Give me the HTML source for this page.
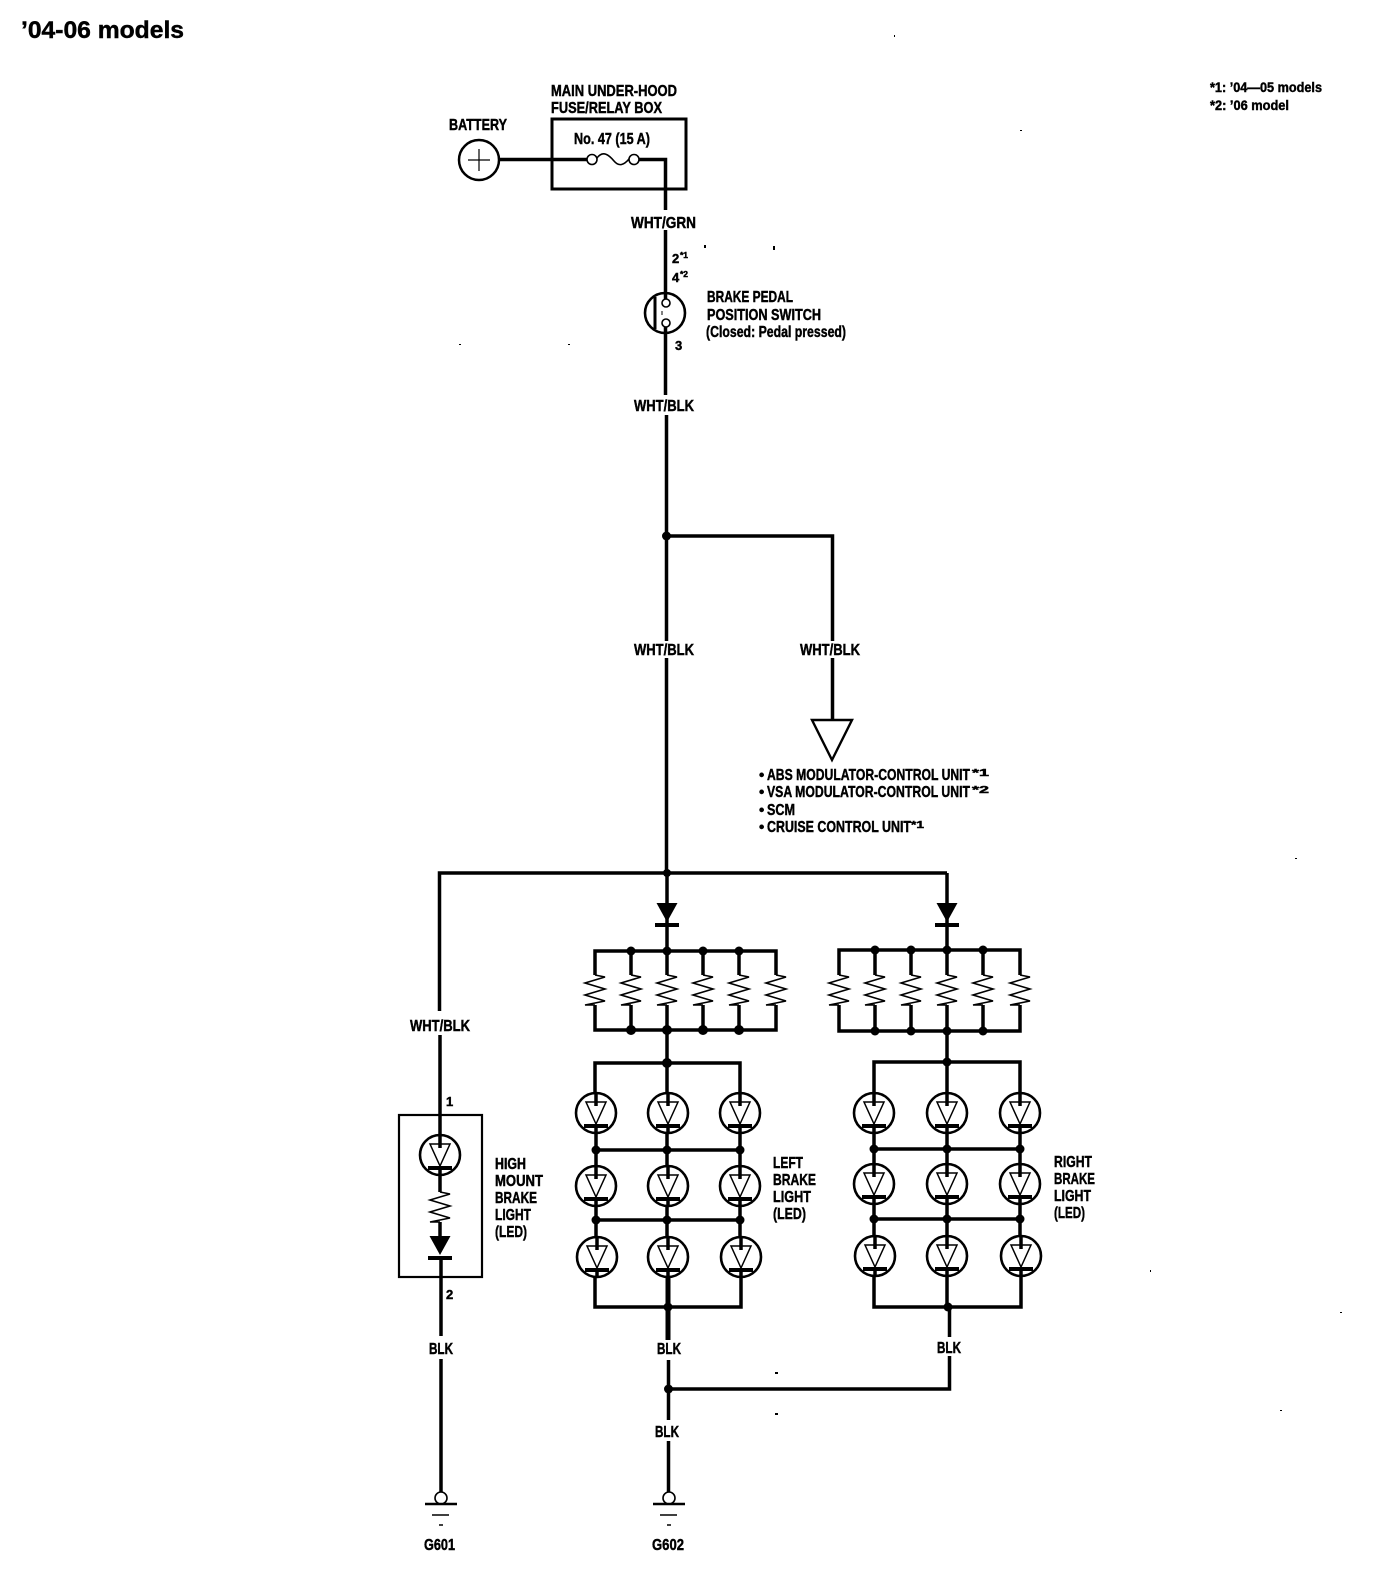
<!DOCTYPE html>
<html><head><meta charset="utf-8"><style>
html,body{margin:0;padding:0;background:#fff;width:1376px;height:1584px;overflow:hidden}
svg{display:block}
text{font-family:"Liberation Sans",sans-serif;font-weight:bold;font-size:15.5px;fill:#000;stroke:#000;stroke-width:.45}
.w{stroke:#000;stroke-width:3.5;fill:none}
</style></head><body>
<svg width="1376" height="1584" viewBox="0 0 1376 1584" xmlns="http://www.w3.org/2000/svg">
<defs>
<g id="led">
<circle r="20" fill="#fff" stroke="#000" stroke-width="2.6"/>
<path d="M-10,-11H10L0,11Z" fill="none" stroke="#000" stroke-width="1.5"/>
<path d="M0,-20V-7" class="w"/>
<path d="M-12,13H12" stroke="#000" stroke-width="4"/>
<path d="M0,11V20" class="w"/>
</g>
<path id="zz" d="M0,0L10,2L-10,8L10,14L-10,20L10,26L-10,30L0,30" fill="none" stroke="#000" stroke-width="1.6"/>
<g id="diode">
<path d="M-10.500,0H10.500L0,19Z" fill="#000"/>
<path d="M-12,22H12" stroke="#000" stroke-width="4"/>
</g>
<g id="gnd">
<circle r="6" fill="#fff" stroke="#000" stroke-width="1.6"/>
<path d="M-16,6H16" stroke="#000" stroke-width="2.500"/>
<path d="M-9,17H8" stroke="#000" stroke-width="1.500"/>
<path d="M-2,27H2" stroke="#000" stroke-width="1.500"/>
</g>
</defs>

<text x="21" y="38" style="font-size:24px" textLength="163" lengthAdjust="spacingAndGlyphs">’04-06 models</text>
<text x="1210" y="92" style="font-size:14px" textLength="112" lengthAdjust="spacingAndGlyphs">*1: ’04—05 models</text>
<text x="1210" y="110" style="font-size:14px" textLength="79" lengthAdjust="spacingAndGlyphs">*2: ’06 model</text>

<!-- top: battery and fuse box -->
<rect x="552" y="119" width="134" height="70" fill="none" stroke="#000" stroke-width="3"/>
<circle cx="479" cy="160" r="20" fill="#fff" stroke="#000" stroke-width="2.500"/>
<path d="M468,160H490M479,149V171" stroke="#000" stroke-width="1.200"/>
<path class="w" d="M499,159.500H587"/>
<path class="w" d="M639,159.500H665.500V210"/>
<circle cx="592" cy="159.500" r="5" fill="#fff" stroke="#000" stroke-width="1.600"/>
<circle cx="634" cy="159.500" r="5" fill="#fff" stroke="#000" stroke-width="1.600"/>
<path d="M597,158C603,150 609,155 614,161C619,167 624,165 629,159" fill="none" stroke="#000" stroke-width="1.600"/>
<text x="551" y="96" textLength="126" lengthAdjust="spacingAndGlyphs">MAIN UNDER-HOOD</text>
<text x="551" y="113" textLength="111" lengthAdjust="spacingAndGlyphs">FUSE/RELAY BOX</text>
<text x="449" y="130" textLength="58" lengthAdjust="spacingAndGlyphs">BATTERY</text>
<text x="574" y="144" textLength="76" lengthAdjust="spacingAndGlyphs">No. 47 (15 A)</text>
<text x="631" y="228" textLength="65" lengthAdjust="spacingAndGlyphs">WHT/GRN</text>

<!-- switch -->
<path class="w" d="M665.500,230V292"/>
<circle cx="665" cy="313" r="20" fill="#fff" stroke="#000" stroke-width="2.600"/>
<path d="M655,297V329" stroke="#000" stroke-width="3"/>
<circle cx="666" cy="303" r="4" fill="#fff" stroke="#000" stroke-width="1.600"/>
<circle cx="666" cy="323" r="4" fill="#fff" stroke="#000" stroke-width="1.600"/>
<path d="M662,311V315" stroke="#000" stroke-width="1"/>
<path class="w" d="M665.500,292V299M665.500,327V395"/>
<text x="672" y="263" style="font-size:13px">2</text>
<text x="680" y="258" style="font-size:8.500px">*1</text>
<text x="672" y="282" style="font-size:13px">4</text>
<text x="680" y="277" style="font-size:8.500px">*2</text>
<text x="675" y="350" style="font-size:13px">3</text>
<text x="707" y="302" textLength="86" lengthAdjust="spacingAndGlyphs">BRAKE PEDAL</text>
<text x="707" y="320" textLength="114" lengthAdjust="spacingAndGlyphs">POSITION SWITCH</text>
<text x="706" y="337" textLength="140" lengthAdjust="spacingAndGlyphs">(Closed: Pedal pressed)</text>
<text x="634" y="411" textLength="60" lengthAdjust="spacingAndGlyphs">WHT/BLK</text>

<!-- main trunk -->
<path class="w" d="M666.500,415V641M666.500,658V873"/>
<circle cx="666.500" cy="536" r="4.500"/>
<path class="w" d="M666.500,536H832.500V641M832.500,658V719"/>
<text x="634" y="655" textLength="60" lengthAdjust="spacingAndGlyphs">WHT/BLK</text>
<text x="800" y="655" textLength="60" lengthAdjust="spacingAndGlyphs">WHT/BLK</text>
<path d="M812,720H852L832,760Z" fill="#fff" stroke="#000" stroke-width="2.400"/>
<text x="759" y="780" style="font-size:15px">•</text>
<text x="767" y="780" textLength="203" lengthAdjust="spacingAndGlyphs">ABS MODULATOR-CONTROL UNIT</text>
<text x="972" y="776" style="font-size:10px" textLength="17" lengthAdjust="spacingAndGlyphs">*1</text>
<text x="759" y="797" style="font-size:15px">•</text>
<text x="767" y="797" textLength="203" lengthAdjust="spacingAndGlyphs">VSA MODULATOR-CONTROL UNIT</text>
<text x="972" y="793" style="font-size:10px" textLength="17" lengthAdjust="spacingAndGlyphs">*2</text>
<text x="759" y="815" style="font-size:15px">•</text>
<text x="767" y="815" textLength="28" lengthAdjust="spacingAndGlyphs">SCM</text>
<text x="759" y="832" style="font-size:15px">•</text>
<text x="767" y="832" textLength="144" lengthAdjust="spacingAndGlyphs">CRUISE CONTROL UNIT</text>
<text x="911" y="828" style="font-size:10px" textLength="13" lengthAdjust="spacingAndGlyphs">*1</text>

<!-- distribution bus -->
<path class="w" d="M439.500,1011V873H947"/>
<circle cx="667" cy="873" r="4"/>
<path class="w" d="M667,873V950M947,873V950"/>
<use href="#diode" x="667" y="903"/>
<use href="#diode" x="947" y="903"/>

<!-- left resistors -->
<path class="w" d="M595,975V951H776V975M631,951V975M667,951V975M703,951V975M739,951V975"/>
<path class="w" d="M595,1005V1030H776V1005M631,1030V1005M667,1030V1005M703,1030V1005M739,1030V1005"/>
<use href="#zz" x="595" y="975"/><use href="#zz" x="631" y="975"/><use href="#zz" x="667" y="975"/>
<use href="#zz" x="703" y="975"/><use href="#zz" x="739" y="975"/><use href="#zz" x="776" y="975"/>
<g>
<circle cx="631" cy="951" r="4.500"/><circle cx="667" cy="951" r="4.500"/><circle cx="703" cy="951" r="4.500"/><circle cx="739" cy="951" r="4.500"/>
<circle cx="631" cy="1030" r="5"/><circle cx="667" cy="1030" r="5"/><circle cx="703" cy="1030" r="5"/><circle cx="739" cy="1030" r="5"/>
</g>
<path class="w" d="M667,1030V1093"/>
<path class="w" d="M595,1093V1063H740V1093"/>
<circle cx="667" cy="1063" r="5"/>

<!-- left LEDs -->
<path class="w" d="M596,1133V1165M667,1133V1165M740,1133V1165M596,1205V1236M667,1205V1236M740,1205V1236"/>
<path class="w" d="M596,1150H740M596,1220H740"/>
<circle cx="596" cy="1150" r="4.500"/><circle cx="667" cy="1150" r="4.500"/><circle cx="740" cy="1150" r="4.500"/>
<circle cx="596" cy="1220" r="4.500"/><circle cx="667" cy="1220" r="4.500"/><circle cx="740" cy="1220" r="4.500"/>
<use href="#led" x="596" y="1113"/><use href="#led" x="668" y="1113"/><use href="#led" x="740" y="1113"/>
<use href="#led" x="596" y="1186"/><use href="#led" x="668" y="1186"/><use href="#led" x="740" y="1186"/>
<use href="#led" x="597" y="1257"/><use href="#led" x="668" y="1257"/><use href="#led" x="741" y="1257"/>
<path class="w" d="M595,1277V1307H741V1277"/>
<path d="M668,1277V1340" stroke="#000" stroke-width="5" fill="none"/>
<circle cx="668" cy="1307" r="4.500"/>
<text x="773" y="1168" textLength="30" lengthAdjust="spacingAndGlyphs">LEFT</text>
<text x="773" y="1185" textLength="43" lengthAdjust="spacingAndGlyphs">BRAKE</text>
<text x="773" y="1202" textLength="38" lengthAdjust="spacingAndGlyphs">LIGHT</text>
<text x="773" y="1219" textLength="33" lengthAdjust="spacingAndGlyphs">(LED)</text>

<!-- right resistors -->
<path class="w" d="M839,975V950H1020V975M875,950V975M911,950V975M947,950V975M983,950V975"/>
<path class="w" d="M839,1005V1031H1020V1005M875,1031V1005M911,1031V1005M947,1031V1005M983,1031V1005"/>
<use href="#zz" x="839" y="975"/><use href="#zz" x="875" y="975"/><use href="#zz" x="911" y="975"/>
<use href="#zz" x="947" y="975"/><use href="#zz" x="983" y="975"/><use href="#zz" x="1020" y="975"/>
<circle cx="875" cy="950" r="4.500"/><circle cx="911" cy="950" r="4.500"/><circle cx="947" cy="950" r="4.500"/><circle cx="983" cy="950" r="4.500"/>
<circle cx="875" cy="1031" r="4.500"/><circle cx="911" cy="1031" r="4.500"/><circle cx="947" cy="1031" r="4.500"/><circle cx="983" cy="1031" r="4.500"/>
<path class="w" d="M947,1031V1093"/>
<path class="w" d="M874,1093V1062H1020V1093"/>
<circle cx="947" cy="1062" r="4.500"/>

<!-- right LEDs -->
<path class="w" d="M874,1133V1165M947,1133V1165M1020,1133V1165M874,1204V1236M947,1204V1236M1020,1204V1236"/>
<path class="w" d="M874,1149H1020M874,1219H1020"/>
<circle cx="874" cy="1149" r="4.500"/><circle cx="947" cy="1149" r="4.500"/><circle cx="1020" cy="1149" r="4.500"/>
<circle cx="874" cy="1219" r="4.500"/><circle cx="947" cy="1219" r="4.500"/><circle cx="1020" cy="1219" r="4.500"/>
<use href="#led" x="874" y="1113"/><use href="#led" x="947" y="1113"/><use href="#led" x="1020" y="1113"/>
<use href="#led" x="874" y="1184"/><use href="#led" x="947" y="1184"/><use href="#led" x="1020" y="1184"/>
<use href="#led" x="875" y="1256"/><use href="#led" x="947" y="1256"/><use href="#led" x="1021" y="1256"/>
<path class="w" d="M874,1276V1307H1021V1276M947,1276V1307"/>
<circle cx="948" cy="1307" r="4.500"/>
<path class="w" d="M949.500,1307V1337"/>
<text x="1054" y="1167" textLength="38" lengthAdjust="spacingAndGlyphs">RIGHT</text>
<text x="1054" y="1184" textLength="41" lengthAdjust="spacingAndGlyphs">BRAKE</text>
<text x="1054" y="1201" textLength="37" lengthAdjust="spacingAndGlyphs">LIGHT</text>
<text x="1054" y="1218" textLength="31" lengthAdjust="spacingAndGlyphs">(LED)</text>

<!-- ground returns -->
<text x="657" y="1354" textLength="24" lengthAdjust="spacingAndGlyphs">BLK</text>
<text x="937" y="1353" textLength="24" lengthAdjust="spacingAndGlyphs">BLK</text>
<path class="w" d="M668.500,1360V1420M949.500,1356V1389H668.500"/>
<circle cx="668.500" cy="1389" r="4.500"/>
<text x="655" y="1437" textLength="24" lengthAdjust="spacingAndGlyphs">BLK</text>
<path class="w" d="M668.500,1441V1492"/>
<use href="#gnd" x="669" y="1498"/>
<text x="652" y="1550" textLength="32" lengthAdjust="spacingAndGlyphs">G602</text>

<!-- high mount -->
<text x="410" y="1031" textLength="60" lengthAdjust="spacingAndGlyphs">WHT/BLK</text>
<path class="w" d="M440,1035V1136"/>
<rect x="399" y="1115" width="83" height="162" fill="none" stroke="#000" stroke-width="2.200"/>
<use href="#led" x="440" y="1155"/>
<path class="w" d="M440,1175V1192M440,1222V1238"/>
<use href="#zz" x="440" y="1192"/>
<use href="#diode" x="440" y="1236"/>
<path class="w" d="M441,1258V1336"/>
<text x="446" y="1106" style="font-size:13px">1</text>
<text x="446" y="1299" style="font-size:13px">2</text>
<text x="495" y="1169" textLength="31" lengthAdjust="spacingAndGlyphs">HIGH</text>
<text x="495" y="1186" textLength="48" lengthAdjust="spacingAndGlyphs">MOUNT</text>
<text x="495" y="1203" textLength="42" lengthAdjust="spacingAndGlyphs">BRAKE</text>
<text x="495" y="1220" textLength="36" lengthAdjust="spacingAndGlyphs">LIGHT</text>
<text x="495" y="1237" textLength="32" lengthAdjust="spacingAndGlyphs">(LED)</text>
<text x="429" y="1354" textLength="24" lengthAdjust="spacingAndGlyphs">BLK</text>
<path class="w" d="M441,1359V1492"/>
<use href="#gnd" x="441" y="1498"/>
<text x="424" y="1550" textLength="31" lengthAdjust="spacingAndGlyphs">G601</text>

<!-- scan specks -->
<g fill="#000">
<rect x="704" y="245" width="2" height="3"/><rect x="773" y="246" width="2" height="4"/><rect x="459" y="344" width="2" height="1"/><rect x="568" y="344" width="2" height="1"/>
<rect x="894" y="35" width="1" height="2"/><rect x="1020" y="130" width="2" height="1"/><rect x="775" y="1372" width="3" height="2"/><rect x="775" y="1413" width="3" height="2"/>
<rect x="1280" y="1410" width="2" height="1"/><rect x="1340" y="1312" width="2" height="1"/><rect x="1295" y="858" width="2" height="1"/><rect x="1150" y="1270" width="1" height="2"/>
</g>
</svg>
</body></html>
